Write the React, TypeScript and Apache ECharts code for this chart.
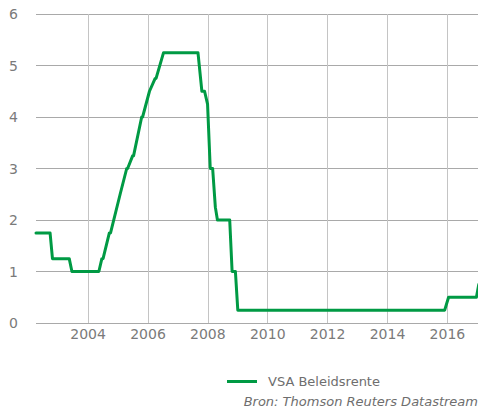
import React, { useEffect, useRef } from "react";
import * as echarts from "echarts";

const seriesName = "VSA Beleidsrente";
const sourceText = "Bron: Thomson Reuters Datastream";

// line vertices: year (decimal) and rate (%)
const years = [
  2002.26, 2002.73, 2002.81, 2003.37, 2003.46, 2004.36, 2004.46, 2004.5, 2004.71, 2004.75,
  2005.07, 2005.09, 2005.29, 2005.32, 2005.49, 2005.52, 2005.79, 2005.82, 2006.05, 2006.07,
  2006.24, 2006.27, 2006.52, 2007.67, 2007.8, 2007.89, 2007.99, 2008.08, 2008.16, 2008.25,
  2008.32, 2008.73, 2008.81, 2008.92, 2009.0, 2015.91, 2016.04, 2016.97, 2017.05, 2017.13,
];
const rates = [
  1.75, 1.75, 1.25, 1.25, 1.0, 1.0, 1.25, 1.25, 1.75, 1.75,
  2.5, 2.5, 3.0, 3.0, 3.25, 3.25, 4.0, 4.0, 4.5, 4.5,
  4.75, 4.75, 5.25, 5.25, 4.5, 4.5, 4.25, 3.0, 3.0, 2.25,
  2.0, 2.0, 1.0, 1.0, 0.25, 0.25, 0.5, 0.5, 0.75, 0.75,
];
const xTicks = [2004, 2006, 2008, 2010, 2012, 2014, 2016];
const xMin = 2002.26;
const xMax = 2017.29;
const yMin = 0;
const yMax = 6;

const font = "DejaVu Sans";

export default function App() {
  const ref = useRef<HTMLDivElement>(null);
  useEffect(() => {
    if (!ref.current) return;
    const chart = echarts.init(ref.current, null, { renderer: "svg" });
    chart.setOption({
      animation: false,
      grid: { left: 36, right: 0, top: 14, bottom: 91 },
      xAxis: {
        type: "value",
        min: xMin,
        max: xMax,
        axisLine: { show: false },
        axisTick: { show: false, customValues: xTicks },
        axisLabel: {
          customValues: xTicks,
          color: "#7a7a7a",
          fontFamily: font,
          fontSize: 14,
          margin: 4,
          formatter: (v: number) => String(Math.round(v)),
        },
        splitLine: { show: true, lineStyle: { color: "#c4c4c4", width: 1 } },
      },
      yAxis: {
        type: "value",
        min: yMin,
        max: yMax,
        interval: 1,
        axisLine: { show: false },
        axisTick: { show: false },
        axisLabel: {
          color: "#7a7a7a",
          fontFamily: font,
          fontSize: 14,
          margin: 18,
        },
        splitLine: { show: true, lineStyle: { color: "#a9a9a9", width: 1 } },
      },
      legend: {
        left: 222,
        top: 370,
        itemWidth: 30,
        itemHeight: 3,
        itemGap: 10,
        icon: "rect",
        textStyle: {
          color: "#6e6e6e",
          fontFamily: font,
          fontSize: 13,
          padding: [0, 0, 8, 6],
        },
        data: [seriesName],
      },
      graphic: [
        {
          type: "text",
          right: 8,
          top: 395,
          style: {
            text: sourceText,
            fill: "#6e6e6e",
            font: "italic 13px 'DejaVu Sans'",
          },
        },
      ],
      series: [
        {
          name: seriesName,
          type: "line",
          data: years.map((y, i) => [y, rates[i]]),
          showSymbol: false,
          symbol: "none",
          lineStyle: { color: "#009a44", width: 3, join: "round", cap: "round" },
          itemStyle: { color: "#009a44" },
        },
      ],
    });
    return () => chart.dispose();
  }, []);
  return <div ref={ref} style={{ width: 486, height: 414, margin: -8 }} />;
}
